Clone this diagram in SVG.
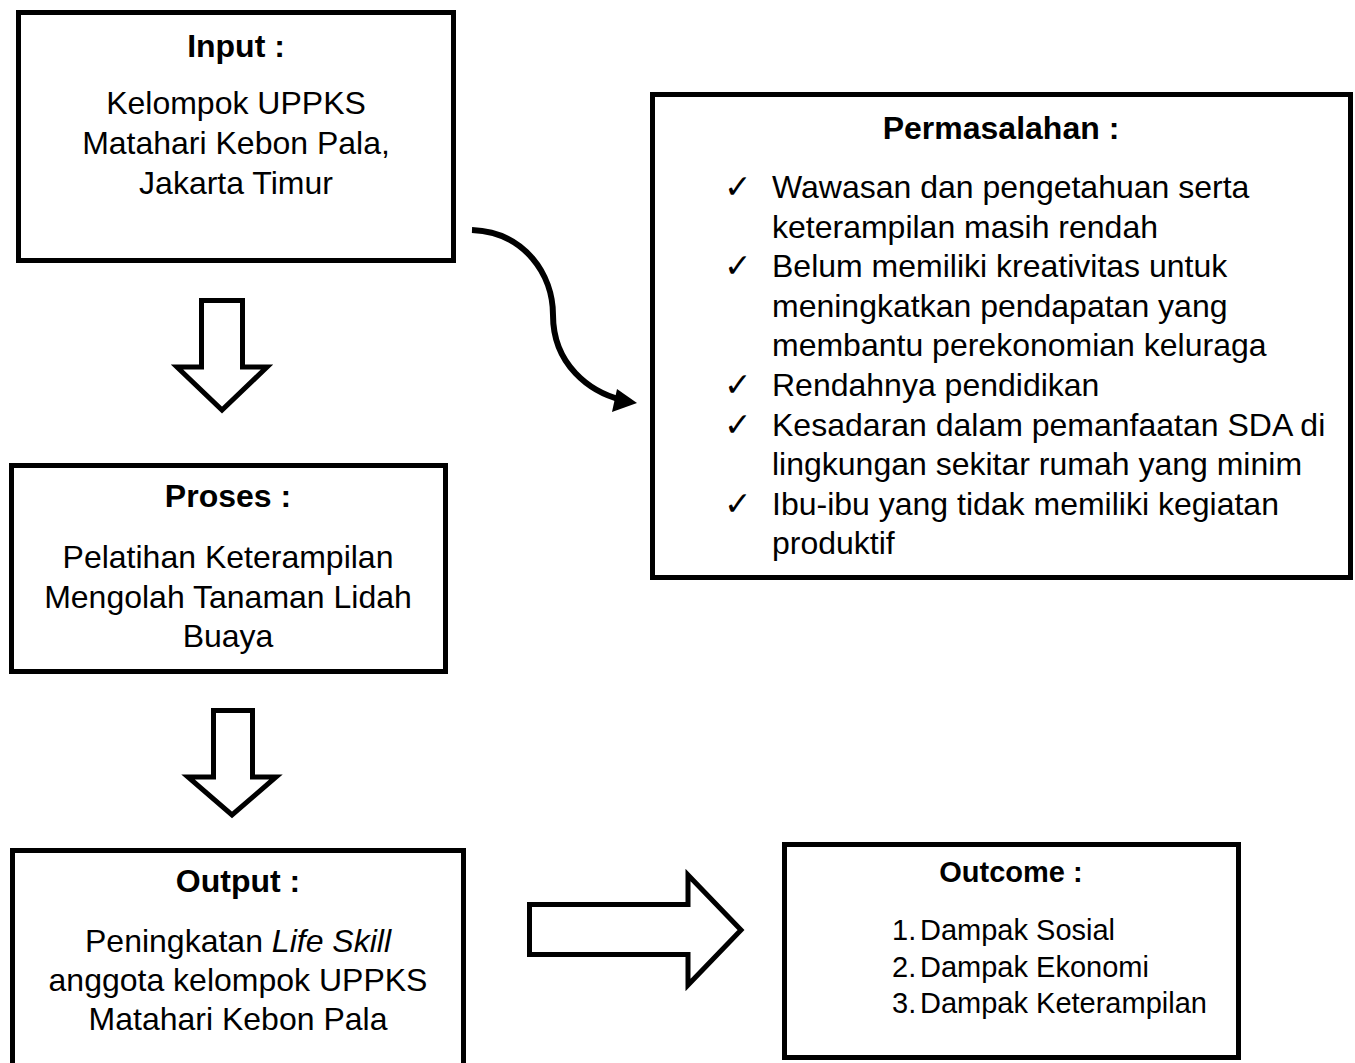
<svg xmlns="http://www.w3.org/2000/svg" width="1355" height="1063" viewBox="0 0 1355 1063">
<style>
.box{fill:#fff;stroke:#000;stroke-width:5}
.t{font-family:"Liberation Sans",Arial,sans-serif;font-size:32px;fill:#000}
.c{text-anchor:middle}
.b{font-weight:bold}
.o{font-family:"Liberation Sans",Arial,sans-serif;font-size:29px;fill:#000}
.chk{font-family:"DejaVu Sans",sans-serif;font-size:33px;fill:#000}
.blk{fill:#fff;stroke:#000;stroke-width:5;stroke-linejoin:miter}
.curve{fill:none;stroke:#000;stroke-width:6}
</style>
<rect width="1355" height="1063" fill="#fff"/>
<g id="connectors">
<polygon class="blk" points="201.5,300.5 242.5,300.5 242.5,367 267,367 222,410 177,367 201.5,367"/>
<polygon class="blk" points="213.5,710.5 252.5,710.5 252.5,777 276,777 232,815 188,777 213.5,777"/>
<polygon class="blk" points="529.5,904.5 688,904.5 688,875 741,930 688,985 688,954.5 529.5,954.5"/>
<path class="curve" d="M472 230 C525 232 553 275 553 315 C553 365 590 392 622 400"/>
<polygon points="637,403 617,389 612,412" fill="#000"/>
</g>
<g id="input">
<rect class="box" x="18.5" y="12.5" width="435" height="248"/>
<text class="t c b" x="236" y="57">Input :</text>
<text class="t c" x="236" y="114">Kelompok UPPKS</text>
<text class="t c" x="236" y="154">Matahari Kebon Pala,</text>
<text class="t c" x="236" y="194">Jakarta Timur</text>
</g>
<g id="permasalahan">
<rect class="box" x="652.5" y="94.5" width="698" height="483"/>
<text class="t c b" x="1001" y="139">Permasalahan :</text>
<text class="chk" x="724" y="198">✓</text>
<text class="t" x="772" y="198">Wawasan dan pengetahuan serta</text>
<text class="t" x="772" y="237.6">keterampilan masih rendah</text>
<text class="chk" x="724" y="277.2">✓</text>
<text class="t" x="772" y="277.2">Belum memiliki kreativitas untuk</text>
<text class="t" x="772" y="316.8">meningkatkan pendapatan yang</text>
<text class="t" x="772" y="356.4">membantu perekonomian keluraga</text>
<text class="chk" x="724" y="396">✓</text>
<text class="t" x="772" y="396">Rendahnya pendidikan</text>
<text class="chk" x="724" y="435.6">✓</text>
<text class="t" x="772" y="435.6">Kesadaran dalam pemanfaatan SDA di</text>
<text class="t" x="772" y="475.2">lingkungan sekitar rumah yang minim</text>
<text class="chk" x="724" y="514.8">✓</text>
<text class="t" x="772" y="514.8">Ibu-ibu yang tidak memiliki kegiatan</text>
<text class="t" x="772" y="554.4">produktif</text>
</g>
<g id="proses">
<rect class="box" x="11.5" y="465.5" width="434" height="206"/>
<text class="t c b" x="228" y="507">Proses :</text>
<text class="t c" x="228" y="568">Pelatihan Keterampilan</text>
<text class="t c" x="228" y="608">Mengolah Tanaman Lidah</text>
<text class="t c" x="228" y="647">Buaya</text>
</g>
<g id="output">
<rect class="box" x="12.5" y="850.5" width="451" height="240"/>
<text class="t c b" x="238" y="892">Output :</text>
<text class="t c" x="238" y="952">Peningkatan <tspan font-style="italic">Life Skill</tspan></text>
<text class="t c" x="238" y="991">anggota kelompok UPPKS</text>
<text class="t c" x="238" y="1030">Matahari Kebon Pala</text>
</g>
<g id="outcome">
<rect class="box" x="784.5" y="844.5" width="454" height="213"/>
<text class="o c b" x="1011" y="882">Outcome :</text>
<text class="o" x="892" y="940">1.</text>
<text class="o" x="920" y="940">Dampak Sosial</text>
<text class="o" x="892" y="977">2.</text>
<text class="o" x="920" y="977">Dampak Ekonomi</text>
<text class="o" x="892" y="1013">3.</text>
<text class="o" x="920" y="1013">Dampak Keterampilan</text>
</g>
</svg>
